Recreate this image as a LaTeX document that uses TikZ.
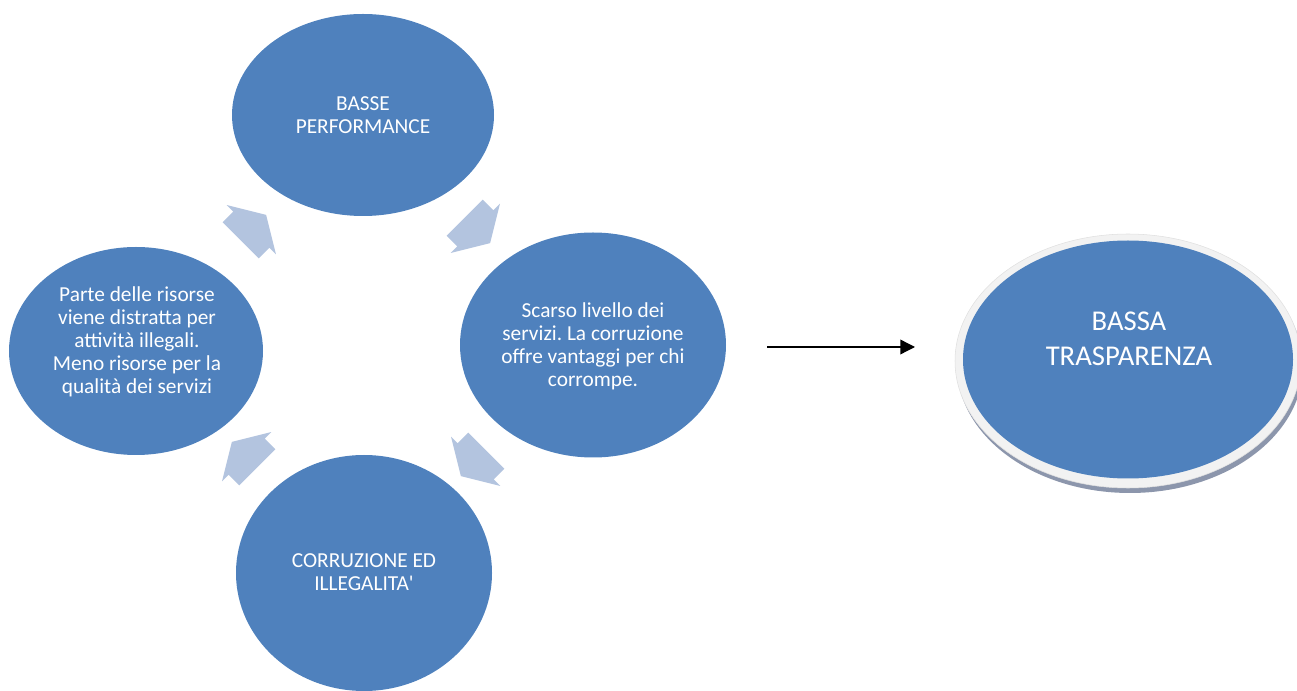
\documentclass[tikz,border=0pt]{standalone}
\usepackage{fontspec}
\setmainfont{Carlito}
\usetikzlibrary{shapes.geometric, shapes.arrows, arrows.meta}
\definecolor{blu}{RGB}{79,129,189}
\definecolor{azzurro}{RGB}{179,196,223}
\definecolor{anello}{RGB}{242,242,242}
\definecolor{ombra}{RGB}{140,150,172}
\frenchspacing

\begin{document}
\begin{tikzpicture}[
        x=0.75pt, y=-0.75pt, % coordinate in pixel
        cerchio/.style={ellipse, fill=blu, inner sep=0pt}, % cerchi del ciclo
        testo/.style={text=white, align=center, inner sep=0pt, font=\fontsize{16}{17.25}\selectfont},
        freccia/.style={single arrow, fill=azzurro, inner xsep=7.5pt, inner ysep=19pt,
                minimum height=0pt, minimum width=0pt, single arrow head extend=7pt, single arrow tip angle=118},
    ]
    \useasboundingbox (0,0) rectangle (1297,691);

    % ciclo
    \node[cerchio, minimum width=196.5pt, minimum height=151.5pt] (perf) at (363,115) {};
    \node[cerchio, minimum width=199.5pt, minimum height=168.75pt] (serv) at (593,345) {};
    \node[cerchio, minimum width=192pt, minimum height=177pt] (corr) at (364,573) {};
    \node[cerchio, minimum width=190.5pt, minimum height=156pt] (ris) at (136,351) {};

    \node[testo] (perf-t) at (363,115) {BASSE\\PERFORMANCE};
    \node[testo] (serv-t) at (593,346) {Scarso livello dei\\servizi. La corruzione\\offre vantaggi per chi\\corrompe.};
    \node[testo] (corr-t) at (364,572) {CORRUZIONE ED\\ILLEGALITA\textquotesingle};
    \node[testo] (ris-t) at (137,342) {Parte delle risorse\\viene distratta per\\attività illegali.\\Meno risorse per la\\qualità dei servizi};

    \node[freccia, rotate=45] (f1) at (248,233) {};
    \node[freccia, rotate=-45] (f2) at (472,225) {};
    \node[freccia, rotate=-135] (f3) at (479,458) {};
    \node[freccia, rotate=135] (f4) at (250,460) {};

    % freccia verso la trasparenza
    \coordinate (a-in) at (767,347);
    \coordinate (a-out) at (915,347);
    \draw[line width=1pt, -{Triangle[length=11pt, width=11pt]}] (a-in) -- (a-out);

    % ellisse a destra
    \node[ellipse, fill=ombra, inner sep=0pt, minimum width=259.5pt, minimum height=190.5pt] (trasp-o) at (1130,366) {};
    \node[ellipse, fill=anello, draw=black!12, inner sep=0pt, minimum width=259.5pt, minimum height=190.5pt] (trasp) at (1128,361) {};
    \node[cerchio, minimum width=247.5pt, minimum height=178.5pt] (trasp-in) at (1128,359.5) {};
    \node[testo, font=\fontsize{21.5}{26.25}\selectfont] (trasp-t) at (1129,338.5) {BASSA\\TRASPARENZA};
\end{tikzpicture}
\end{document}
